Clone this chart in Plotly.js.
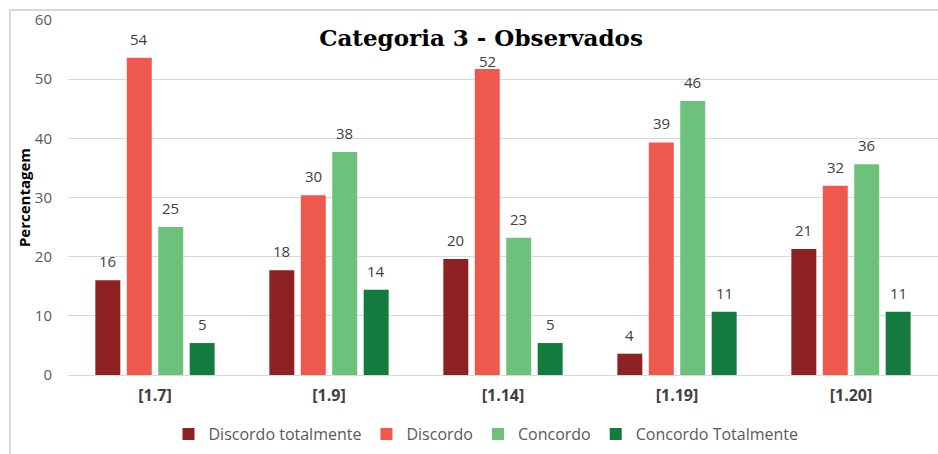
<!DOCTYPE html>
<html>
<head>
<meta charset="utf-8">
<script src="https://cdn.plot.ly/plotly-3.0.1.min.js"></script>
<style>
  html, body { margin: 0; padding: 0; background: #ffffff; overflow: hidden; }
  #wrap { position: relative; width: 938px; height: 454px; }
  #frame { position: absolute; left: 9px; top: 9px; width: 940px; height: 450px;
           border-left: 2px solid #d9d9d9; border-top: 2px solid #d9d9d9; box-sizing: border-box; pointer-events: none; }
  #chart { position: absolute; left: 0; top: 0; width: 938px; height: 454px; }
</style>
</head>
<body>
<div id="wrap">
  <div id="chart"></div>
  <div id="frame"></div>
</div>
<script>
// ---- Data ----
const categories = ['[1.7]', '[1.9]', '[1.14]', '[1.19]', '[1.20]'];
const seriesNames = ['Discordo totalmente', 'Discordo', 'Concordo', 'Concordo Totalmente'];
const discordoTotalmente = [16.0, 17.7, 19.6, 3.6, 21.3];
const discordo = [53.6, 30.4, 51.7, 39.3, 32.0];
const concordo = [25.0, 37.7, 23.2, 46.3, 35.6];
const concordoTotalmente = [5.4, 14.4, 5.4, 10.7, 10.7];
const yTickValues = [0, 10, 20, 30, 40, 50, 60];

// ---- Styling ----
const colors = ['#8E2121', '#EF584D', '#6CC27A', '#137B3D'];
const seriesValues = [discordoTotalmente, discordo, concordo, concordoTotalmente];
const W = 938, H = 454;
const margin = { l: 68, r: 0, t: 20, b: 79 };
const yMax = 60;
const bargap = 0.277, bargroupgap = 0.206;
const plotW = W - margin.l - margin.r;
const plotH = H - margin.t - margin.b;
const catW = plotW / categories.length;
const slot = (1 - bargap) * catW / seriesValues.length;
const titleBox = { x0: 310, x1: 655, bottom: 54 };

const traces = seriesValues.map((vals, i) => ({
  type: 'bar',
  name: seriesNames[i],
  x: categories,
  y: vals,
  marker: { color: colors[i] },
  hoverinfo: 'skip'
}));

// data labels; like the spreadsheet, a label that would run into the title is tucked down onto its bar
const annotations = [];
seriesValues.forEach((vals, i) => {
  vals.forEach((v, j) => {
    const xshift = (i - (seriesValues.length - 1) / 2) * slot;
    const cx = margin.l + (j + 0.5) * catW + xshift;
    const barTop = margin.t + (yMax - v) * plotH / yMax;
    let yshift = 7;
    if (cx > titleBox.x0 && cx < titleBox.x1 && barTop - yshift - 20 < titleBox.bottom) yshift = -4;
    annotations.push({
      x: categories[j], y: v, xref: 'x', yref: 'y',
      text: String(Math.round(v)),
      showarrow: false,
      yanchor: 'bottom',
      xshift: xshift,
      yshift: yshift,
      font: { family: 'Open Sans', size: 15, color: '#404040' }
    });
  });
});

const layout = {
  width: W, height: H,
  margin: margin,
  paper_bgcolor: 'rgba(0,0,0,0)',
  plot_bgcolor: '#ffffff',
  barmode: 'group',
  bargap: bargap,
  bargroupgap: bargroupgap,
  title: {
    text: '<b>Categoria 3 - Observados</b>',
    font: { family: 'DejaVu Serif', size: 23, color: '#000000' },
    x: 481 / W, xanchor: 'center', xref: 'container',
    y: 1 - 38 / H, yanchor: 'middle', yref: 'container'
  },
  xaxis: {
    type: 'category',
    showgrid: false, zeroline: false, showline: false,
    ticks: '',
    ticklabelstandoff: 9,
    tickfont: { family: 'Open Sans', size: 16, color: '#404040', weight: 'bold' }
  },
  yaxis: {
    range: [0, yMax],
    tickvals: yTickValues,
    showgrid: true, gridcolor: '#d9d9d9', gridwidth: 1,
    zeroline: true, zerolinecolor: '#d9d9d9', zerolinewidth: 1,
    showline: false, ticks: '',
    ticklabelstandoff: 15,
    tickfont: { family: 'Open Sans', size: 15, color: '#595959' },
    title: { text: '<b>Percentagem</b>', font: { family: 'Open Sans', size: 15, color: '#000000' }, standoff: 0 }
  },
  showlegend: true,
  legend: {
    orientation: 'h',
    x: (486 - margin.l) / plotW, xanchor: 'center',
    y: (375 - 434) / plotH, yanchor: 'middle',
    font: { family: 'Open Sans', size: 16, color: '#595959' },
    itemwidth: 30,
    traceorder: 'normal'
  },
  annotations: annotations
};

Plotly.newPlot('chart', traces, layout, { displayModeBar: false, staticPlot: true });
</script>
</body>
</html>
